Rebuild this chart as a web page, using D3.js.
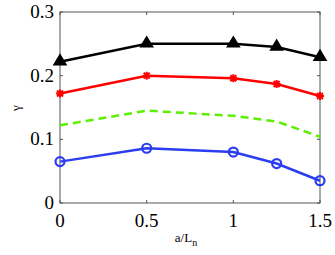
<!DOCTYPE html>
<html>
<head>
<meta charset="utf-8">
<script src="https://cdn.jsdelivr.net/npm/d3@7"></script>
<style>
body { margin: 0; background: #fff; }
text { font-family: "Liberation Serif", "Times New Roman", serif; }
</style>
</head>
<body>
<svg id="chart"></svg>
<script>
const X_VALUES = [0, 0.5, 1, 1.25, 1.5];
const BLACK_VALUES = [0.222, 0.25, 0.25, 0.245, 0.229];
const RED_VALUES = [0.172, 0.2, 0.196, 0.187, 0.168];
const GREEN_VALUES = [0.122, 0.145, 0.137, 0.128, 0.104];
const BLUE_VALUES = [0.065, 0.086, 0.080, 0.062, 0.035];
const X_TICKS = [0, 0.5, 1, 1.5];
const Y_TICKS = [0, 0.1, 0.2, 0.3];

const WIDTH = 335;
const HEIGHT = 255;
const LEFT = 60, RIGHT = 320, TOP = 12, BOTTOM = 203;

window.onload = function(){
    let svg = d3.select("#chart")
        .attr("width", WIDTH)
        .attr("height", HEIGHT);

    let xScale = d3.scaleLinear().domain([0, 1.5]).range([LEFT, RIGHT]);
    let yScale = d3.scaleLinear().domain([0, 0.3]).range([BOTTOM, TOP]);

    // frame
    svg.append("rect")
        .attr("x", LEFT).attr("y", TOP)
        .attr("width", RIGHT - LEFT).attr("height", BOTTOM - TOP)
        .attr("fill", "none").attr("stroke", "#555").attr("stroke-width", 1);

    // ticks, pointing inward, on all four sides
    let tickG = svg.append("g").attr("stroke", "#555").attr("stroke-width", 1);
    X_TICKS.forEach(function(t){
        tickG.append("line").attr("x1", xScale(t)).attr("x2", xScale(t))
            .attr("y1", BOTTOM).attr("y2", BOTTOM - 3);
        tickG.append("line").attr("x1", xScale(t)).attr("x2", xScale(t))
            .attr("y1", TOP).attr("y2", TOP + 3);
    });
    Y_TICKS.forEach(function(t){
        tickG.append("line").attr("x1", LEFT).attr("x2", LEFT + 3)
            .attr("y1", yScale(t)).attr("y2", yScale(t));
        tickG.append("line").attr("x1", RIGHT).attr("x2", RIGHT - 3)
            .attr("y1", yScale(t)).attr("y2", yScale(t));
    });

    // tick labels
    svg.selectAll(".xt").data(X_TICKS).enter().append("text")
        .attr("x", function(d){ return xScale(d); })
        .attr("y", BOTTOM + 24)
        .attr("text-anchor", "middle")
        .attr("font-size", "19px")
        .text(function(d){ return d; });

    svg.selectAll(".yt").data(Y_TICKS).enter().append("text")
        .attr("x", LEFT - 6)
        .attr("y", function(d){ return yScale(d) + 6; })
        .attr("text-anchor", "end")
        .attr("font-size", "19px")
        .text(function(d){ return d; });

    // axis labels
    svg.append("text")
        .attr("transform", "translate(20,108) rotate(-90)")
        .attr("text-anchor", "middle")
        .attr("font-size", "13px")
        .text("γ");

    let xl = svg.append("text")
        .attr("x", 186).attr("y", 242)
        .attr("text-anchor", "middle")
        .attr("font-size", "13px");
    xl.append("tspan").text("a/L");
    xl.append("tspan").attr("dy", 4).attr("font-size", "10px").text("n");

    let line = d3.line()
        .x(function(d){ return xScale(d[0]); })
        .y(function(d){ return yScale(d[1]); });

    function zip(vals){ return X_VALUES.map(function(x, i){ return [x, vals[i]]; }); }

    // black with triangles
    svg.append("path").datum(zip(BLACK_VALUES)).attr("d", line)
        .attr("fill", "none").attr("stroke", "#000").attr("stroke-width", 2.5);
    svg.selectAll(".tri").data(zip(BLACK_VALUES)).enter().append("path")
        .attr("transform", function(d){ return "translate(" + xScale(d[0]) + "," + (yScale(d[1]) - 1) + ")"; })
        .attr("d", "M0,-6 L6,4 L-6,4 Z")
        .attr("fill", "#000").attr("stroke", "#000").attr("stroke-width", 1.5);

    // red with stars
    svg.append("path").datum(zip(RED_VALUES)).attr("d", line)
        .attr("fill", "none").attr("stroke", "#ff0000").attr("stroke-width", 2.5);
    svg.selectAll(".star").data(zip(RED_VALUES)).enter().append("path")
        .attr("transform", function(d){ return "translate(" + xScale(d[0]) + "," + yScale(d[1]) + ")"; })
        .attr("d", "M-3,-3 L3,3 M-3,3 L3,-3 M0,-4 L0,4 M-4,0 L4,0")
        .attr("fill", "none").attr("stroke", "#ff0000").attr("stroke-width", 2);

    // green dashed
    svg.append("path").datum(zip(GREEN_VALUES)).attr("d", line)
        .attr("fill", "none").attr("stroke", "#5eef00").attr("stroke-width", 2.5)
        .attr("stroke-dasharray", "8,5");

    // blue with circles
    svg.append("path").datum(zip(BLUE_VALUES)).attr("d", line)
        .attr("fill", "none").attr("stroke", "#2a3df0").attr("stroke-width", 2.5);
    svg.selectAll(".circ").data(zip(BLUE_VALUES)).enter().append("circle")
        .attr("cx", function(d){ return xScale(d[0]); })
        .attr("cy", function(d){ return yScale(d[1]); })
        .attr("r", 4.5)
        .attr("fill", "none").attr("stroke", "#2a3df0").attr("stroke-width", 2.2);
};
</script>
</body>
</html>
